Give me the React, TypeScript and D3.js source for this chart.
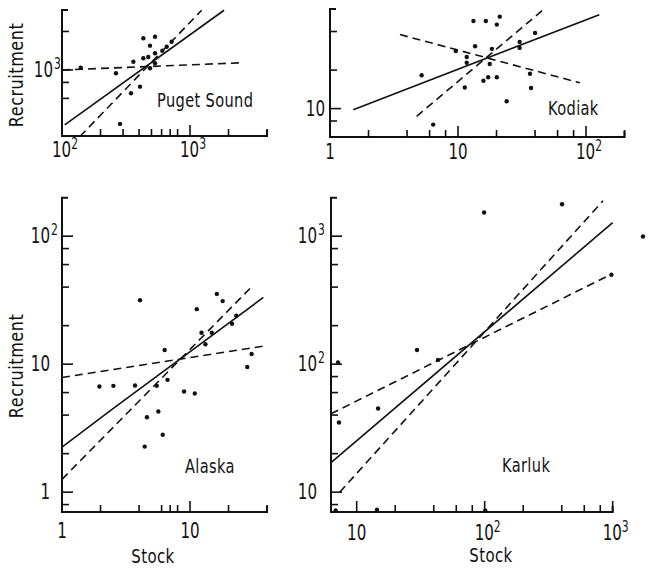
import React from "react";
import * as d3 from "d3";

// ---------- DATA ----------
// Puget Sound
const pugetStock = [140, 264, 361, 432, 533, 487, 432, 472, 533, 407, 346, 284, 487, 608, 719, 533, 658];
const pugetRecruits = [1040, 943, 1161, 1769, 1820, 1549, 1234, 1263, 1350, 741, 658, 379, 1031, 1416, 1664, 1128, 1520];
const pugetSolid: [number, number][] = [[105, 372], [1846, 2930]];
const pugetDashA: [number, number][] = [[138, 302], [1233, 2930]];
const pugetDashB: [number, number][] = [[100, 1000], [2600, 1140]];

// Kodiak
const kodiakStock = [13.2, 16.5, 21.2, 20.1, 40, 30.3, 30.3, 13.6, 9.6, 11.7, 11.7, 18.4, 17.7, 5.2, 15.8, 17.2, 20.1, 36.5, 11.3, 37.2, 24, 6.4];
const kodiakRecruits = [48.4, 48.4, 52.3, 45.3, 39, 33.2, 29.8, 30.7, 28.2, 25.3, 22.8, 29.3, 22.3, 18.2, 16.5, 17.6, 17.6, 18.7, 14.6, 14.5, 11.4, 7.5];
const kodiakSolid: [number, number][] = [[1.52, 9.8], [127, 54.2]];
const kodiakDashA: [number, number][] = [[4.75, 8.7], [46.4, 59.3]];
const kodiakDashB: [number, number][] = [[3.52, 37.9], [89.7, 15.9]];

// Alaska
const alaskaStock = [4.07, 16.2, 18.0, 11.3, 23.0, 21.3, 12.3, 14.8, 13.2, 6.34, 30.3, 28.0, 1.96, 2.52, 3.72, 5.5, 6.67, 8.98, 10.9, 5.66, 4.61, 6.12, 4.43];
const alaskaRecruits = [31.6, 35.4, 31.1, 26.9, 23.9, 20.7, 17.6, 17.6, 14.3, 12.9, 12.0, 9.5, 6.7, 6.77, 6.82, 6.77, 7.54, 6.12, 5.9, 4.27, 3.85, 2.81, 2.27];
const alaskaSolid: [number, number][] = [[1, 2.25], [2.37, 4.32], [37.4, 33.2]];
const alaskaDashA: [number, number][] = [[1, 1.26], [29.4, 39]];
const alaskaDashB: [number, number][] = [[1, 7.87], [38.5, 13.9]];

// Karluk
const karlukStock = [99, 402, 1725, 977, 29.6, 43.2, 7.15, 14.7, 7.27, 6.86, 14.4, 101];
const karlukRecruits = [1531, 1778, 995, 499, 129, 108, 103, 45.1, 35.0, 7.2, 7.3, 7.2];
const karlukSolid: [number, number][] = [[6.3, 17], [1000, 1275]];
const karlukDashA: [number, number][] = [[7.37, 10], [840, 1888]];
const karlukDashB: [number, number][] = [[6.3, 41], [977, 505]];

// Tick values
const pugetXMinor = [200, 300, 400, 500, 600, 700, 800, 2000, 4000];
const pugetXMajor = [100, 1000];
const pugetYMinor = [600, 800, 2000];
const pugetYMajor = [1000];
const kodiakXMinor = [2, 4, 6, 8, 20, 40, 60, 80, 200];
const kodiakXMajor = [1, 10, 100];
const kodiakYMinor = [8, 20, 40];
const kodiakYMajor = [10];
const alaskaXMinor = [2, 4, 6, 7, 8, 20, 40];
const alaskaXMajor = [1, 10];
const alaskaYMinor = [0.8, 2, 4, 6, 20, 40, 60, 80];
const alaskaYMajor = [1, 10, 100];
const karlukXMinor = [20, 40, 60, 80, 200, 400, 600, 800];
const karlukXMajor = [10, 100, 1000];
const karlukYMinor = [8, 20, 40, 60, 80, 200, 400, 600, 800];
const karlukYMajor = [10, 100, 1000];

const panelNames = ["Puget Sound", "Kodiak", "Alaska", "Karluk"];
const axisTitleY = "Recruitment";
const axisTitleX = "Stock";

// ---------- LAYOUT ----------
const D = 128;
const FONT = "'DejaVu Sans', sans-serif";
const INK = "#111";

function fmt(v: number): { base: string; sup?: string } {
  const e = Math.round(Math.log10(v));
  if (Math.abs(Math.log10(v) - e) < 1e-9 && e >= 2) return { base: "10", sup: String(e) };
  return { base: String(v) };
}

// condensed text helper (horizontal squeeze)
function T(props: {
  x: number; y: number; size: number; sx?: number; anchor?: string; rotate?: number;
  spacing?: number; children: React.ReactNode;
}) {
  const { x, y, size, sx = 0.72, anchor = "start", rotate, spacing = 0, children } = props;
  const tr = `translate(${x},${y})${rotate ? ` rotate(${rotate})` : ""} scale(${sx},1)`;
  return (
    <text transform={tr} textAnchor={anchor as any} fontSize={size} fontFamily={FONT} fill={INK}
      letterSpacing={spacing}>
      {children}
    </text>
  );
}

interface Spec {
  name: string;
  left: number;
  bottom: number;
  xDomain: [number, number];
  yDomain: [number, number];
  stock: number[];
  recruits: number[];
  solid: [number, number][];
  dashA: [number, number][];
  dashB: [number, number][];
  xMinor: number[];
  xMajor: number[];
  yMinor: number[];
  yMajor: number[];
  yLabelGap: number;
  xLabelDy: number;
  nameX: number;
  nameY: number;
}

const specs: Spec[] = [
  {
    name: panelNames[0], left: 62, bottom: 136, xDomain: [100, 4000], yDomain: [305, 2940],
    stock: pugetStock, recruits: pugetRecruits, solid: pugetSolid, dashA: pugetDashA, dashB: pugetDashB,
    xMinor: pugetXMinor, xMajor: pugetXMajor, yMinor: pugetYMinor, yMajor: pugetYMajor,
    yLabelGap: 9, xLabelDy: 21, nameX: 157, nameY: 107,
  },
  {
    name: panelNames[1], left: 330, bottom: 137, xDomain: [1, 200], yDomain: [6, 60],
    stock: kodiakStock, recruits: kodiakRecruits, solid: kodiakSolid, dashA: kodiakDashA, dashB: kodiakDashB,
    xMinor: kodiakXMinor, xMajor: kodiakXMajor, yMinor: kodiakYMinor, yMajor: kodiakYMajor,
    yLabelGap: 5, xLabelDy: 22, nameX: 548, nameY: 115,
  },
  {
    name: panelNames[2], left: 62, bottom: 512, xDomain: [1, 40], yDomain: [0.7, 200],
    stock: alaskaStock, recruits: alaskaRecruits, solid: alaskaSolid, dashA: alaskaDashA, dashB: alaskaDashB,
    xMinor: alaskaXMinor, xMajor: alaskaXMajor, yMinor: alaskaYMinor, yMajor: alaskaYMajor,
    yLabelGap: 12, xLabelDy: 26, nameX: 185, nameY: 473,
  },
  {
    name: panelNames[3], left: 331, bottom: 512, xDomain: [6.3, 1000], yDomain: [7, 2000],
    stock: karlukStock, recruits: karlukRecruits, solid: karlukSolid, dashA: karlukDashA, dashB: karlukDashB,
    xMinor: karlukXMinor, xMajor: karlukXMajor, yMinor: karlukYMinor, yMajor: karlukYMajor,
    yLabelGap: 14, xLabelDy: 28, nameX: 502, nameY: 472,
  },
];

function Panel({ s }: { s: Spec }) {
  const right = s.left + D * Math.log10(s.xDomain[1] / s.xDomain[0]);
  const top = s.bottom - D * Math.log10(s.yDomain[1] / s.yDomain[0]);
  const x = d3.scaleLog().domain(s.xDomain).range([s.left, right]);
  const y = d3.scaleLog().domain(s.yDomain).range([s.bottom, top]);
  const line = d3.line<[number, number]>().x((d) => x(d[0])).y((d) => y(d[1]));
  const minorLen = 7;
  const majorLen = 11;
  return (
    <g>
      <path d={`M${s.left + 6},${top}H${s.left}V${s.bottom}H${right}V${s.bottom - 6}`}
        fill="none" stroke={INK} strokeWidth={2} />
      {s.xMinor.map((v) => (
        <line key={"xm" + v} x1={x(v)} x2={x(v)} y1={s.bottom} y2={s.bottom - minorLen} stroke={INK} strokeWidth={1.6} />
      ))}
      {s.xMajor.map((v) => (
        <line key={"xM" + v} x1={x(v)} x2={x(v)} y1={s.bottom} y2={s.bottom - majorLen} stroke={INK} strokeWidth={1.6} />
      ))}
      {s.yMinor.map((v) => (
        <line key={"ym" + v} x1={s.left} x2={s.left + minorLen} y1={y(v)} y2={y(v)} stroke={INK} strokeWidth={1.6} />
      ))}
      {s.yMajor.map((v) => (
        <line key={"yM" + v} x1={s.left} x2={s.left + majorLen} y1={y(v)} y2={y(v)} stroke={INK} strokeWidth={1.6} />
      ))}
      {s.xMajor.map((v) => {
        const f = fmt(v);
        return (
          <T key={"xl" + v} x={x(v) + (f.sup ? 3 : 0)} y={s.bottom + s.xLabelDy} size={21} anchor="middle">
            {f.base}
            {f.sup && <tspan dy={-8} fontSize={15}>{f.sup}</tspan>}
          </T>
        );
      })}
      {s.yMajor.map((v) => {
        const f = fmt(v);
        return (
          <g key={"yl" + v}>
            <T x={s.left - s.yLabelGap} y={y(v) + 7} size={21} anchor="end">{f.base}</T>
            {f.sup && <T x={s.left - s.yLabelGap + 1} y={y(v) - 1} size={15}>{f.sup}</T>}
          </g>
        );
      })}
      <path d={line(s.solid) || ""} fill="none" stroke={INK} strokeWidth={1.6} />
      <path d={line(s.dashA) || ""} fill="none" stroke={INK} strokeWidth={1.6} strokeDasharray="8,5" />
      <path d={line(s.dashB) || ""} fill="none" stroke={INK} strokeWidth={1.6} strokeDasharray="8,5" />
      {s.stock.map((v, i) => (
        <circle key={"p" + i} cx={x(v)} cy={y(s.recruits[i])} r={2.2} fill={INK} />
      ))}
      <T x={s.nameX} y={s.nameY} size={20} sx={0.73} spacing={0.5}>{s.name}</T>
    </g>
  );
}

export default function App() {
  return (
    <svg width={663} height={569} style={{ position: "absolute", left: 0, top: 0, background: "#fff" }}>
      <rect width={663} height={569} fill="#fff" />
      {specs.map((s) => (
        <Panel key={s.name} s={s} />
      ))}
      <T x={23} y={75} size={20} sx={0.8} spacing={0.7} rotate={-90} anchor="middle">{axisTitleY}</T>
      <T x={23} y={366} size={20} sx={0.8} spacing={0.7} rotate={-90} anchor="middle">{axisTitleY}</T>
      <T x={153} y={563} size={20} sx={0.75} spacing={0.5} anchor="middle">{axisTitleX}</T>
      <T x={491} y={562} size={20} sx={0.75} spacing={0.5} anchor="middle">{axisTitleX}</T>
    </svg>
  );
}
